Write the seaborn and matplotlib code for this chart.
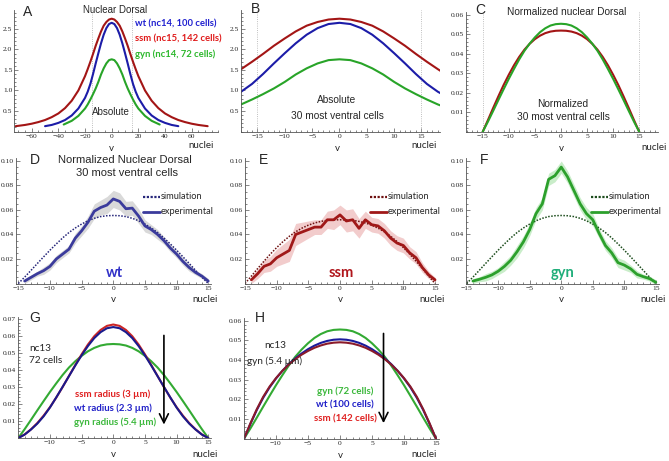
import seaborn as sns
import matplotlib.pyplot as plt
from matplotlib.lines import Line2D
from matplotlib.ticker import AutoMinorLocator

# ---------------- data ----------------
# A / B : absolute nuclear Dorsal, half profiles (v >= 0), symmetric
ssm_abs_x = [0, 2, 4, 6, 8, 10, 12, 14, 16, 18, 20, 25, 30, 35, 40, 45, 50, 55, 60, 65, 72]
ssm_abs = [2.75, 2.73, 2.67, 2.58, 2.44, 2.27, 2.09, 1.89, 1.70, 1.52, 1.35, 1.00, 0.75,
           0.57, 0.44, 0.35, 0.28, 0.23, 0.19, 0.16, 0.13]
wt_abs_x = [0, 2, 4, 6, 8, 10, 12, 14, 16, 18, 20, 25, 30, 35, 40, 45, 50]
wt_abs = [2.65, 2.62, 2.52, 2.36, 2.15, 1.91, 1.66, 1.40, 1.16, 0.97, 0.82, 0.56, 0.39,
          0.28, 0.21, 0.16, 0.13]
gyn_abs_x = [0, 2, 4, 6, 8, 10, 12, 14, 16, 18, 20, 25, 30, 36]
gyn_abs = [1.76, 1.74, 1.66, 1.54, 1.39, 1.21, 1.05, 0.91, 0.78, 0.66, 0.56, 0.38, 0.26, 0.17]

# C, G, H : normalized simulated profiles, v = 0..15
norm_x = list(range(16))
norm_ssm = [0.0520, 0.0519, 0.0515, 0.0507, 0.0494, 0.0476, 0.0452, 0.0422, 0.0385,
            0.0342, 0.0293, 0.0240, 0.0182, 0.0122, 0.0060, 0.0]
norm_gyn = [0.0555, 0.0553, 0.0546, 0.0532, 0.0512, 0.0485, 0.0453, 0.0416, 0.0372,
            0.0323, 0.0272, 0.0218, 0.0163, 0.0107, 0.0052, 0.0]
g_ssm = [0.0670, 0.0662, 0.0638, 0.0601, 0.0552, 0.0494, 0.0431, 0.0366, 0.0301,
         0.0239, 0.0182, 0.0132, 0.0088, 0.0051, 0.0021, 0.0]
g_wt = [0.0655, 0.0648, 0.0625, 0.0590, 0.0543, 0.0488, 0.0428, 0.0365, 0.0302,
        0.0240, 0.0180, 0.0128, 0.0085, 0.0050, 0.0020, 0.0]
h_ssm = [0.0490, 0.0488, 0.0483, 0.0474, 0.0462, 0.0446, 0.0427, 0.0404, 0.0377,
         0.0345, 0.0308, 0.0265, 0.0213, 0.0150, 0.0078, 0.0]
h_wt = [0.0505, 0.0503, 0.0497, 0.0487, 0.0473, 0.0455, 0.0433, 0.0408, 0.0379,
        0.0345, 0.0306, 0.0261, 0.0208, 0.0146, 0.0075, 0.0]

# D, E, F : experimental profiles, v = -14..15
exp_x = list(range(-14, 16))
wt_exp = [0.002, 0.005, 0.008, 0.0105, 0.014, 0.020, 0.024, 0.028, 0.037, 0.043, 0.050,
          0.059, 0.062, 0.064, 0.069, 0.067, 0.061, 0.0615, 0.055, 0.047, 0.044, 0.040,
          0.035, 0.029, 0.024, 0.018, 0.013, 0.009, 0.006, 0.002]
wt_err = [0.002, 0.002, 0.002, 0.003, 0.003, 0.003, 0.003, 0.003, 0.004, 0.004, 0.005,
          0.006, 0.006, 0.007, 0.007, 0.007, 0.006, 0.006, 0.006, 0.005, 0.004, 0.004,
          0.003, 0.003, 0.003, 0.003, 0.003, 0.002, 0.002, 0.002]
ssm_exp = [0.003, 0.008, 0.014, 0.016, 0.021, 0.024, 0.027, 0.040, 0.042, 0.044, 0.046,
           0.046, 0.052, 0.052, 0.056, 0.051, 0.052, 0.045, 0.052, 0.048, 0.047, 0.043,
           0.037, 0.033, 0.031, 0.025, 0.021, 0.013, 0.007, 0.003]
ssm_err = [0.003, 0.004, 0.005, 0.006, 0.007, 0.008, 0.009, 0.009, 0.008, 0.007, 0.006,
           0.006, 0.007, 0.008, 0.008, 0.009, 0.009, 0.008, 0.007, 0.006, 0.006, 0.006,
           0.006, 0.006, 0.006, 0.005, 0.005, 0.004, 0.003, 0.002]
gyn_exp = [0.002, 0.0034, 0.005, 0.007, 0.010, 0.014, 0.019, 0.026, 0.034, 0.044, 0.057,
           0.065, 0.085, 0.088, 0.095, 0.087, 0.076, 0.065, 0.057, 0.052, 0.041, 0.031,
           0.025, 0.017, 0.015, 0.012, 0.0075, 0.0056, 0.004, 0.001]
gyn_err = [0.002, 0.002, 0.003, 0.003, 0.003, 0.004, 0.004, 0.005, 0.005, 0.005, 0.005,
           0.005, 0.005, 0.005, 0.005, 0.005, 0.005, 0.005, 0.005, 0.005, 0.004, 0.004,
           0.004, 0.004, 0.004, 0.003, 0.003, 0.002, 0.002, 0.002]

# colours
DRED, BLUE, GREEN = '#a31515', '#1c1ca8', '#28a428'


def mirror(xs, ys):
    return [-x for x in xs[:0:-1]] + xs, ys[:0:-1] + ys


sns.set_style('ticks')
plt.rcParams['font.family'] = ['Liberation Sans', 'DejaVu Sans']

W, H = 669, 461
fig = plt.figure(figsize=(6.69, 4.61), dpi=100)
CAL = ['Lato', 'DejaVu Sans']


def txt(x, y, s, size=7, ha='center', va='center', **kw):
    fig.text(x / W, 1 - y / H, s, fontsize=size, ha=ha, va=va, **kw)


def fmt(v, f):
    return f.format(v).replace('-', '\u2212')


def panel(left, right, top, bottom, xlim, ylim, xticks, yticks, yf):
    ax = fig.add_axes([left / W, 1 - bottom / H, (right - left) / W, (bottom - top) / H])
    ax.patch.set_alpha(0)
    ax.set_xlim(xlim)
    ax.set_ylim(ylim)
    ax.set_xticks(xticks, labels=[fmt(v, '{:g}') for v in xticks],
                  fontfamily='Liberation Serif')
    ax.set_yticks(yticks, labels=[fmt(v, yf) for v in yticks],
                  fontfamily='Liberation Serif')
    ax.xaxis.set_minor_locator(AutoMinorLocator())
    ax.yaxis.set_minor_locator(AutoMinorLocator())
    ax.tick_params(which='both', direction='in', width=0.5, color='#555555',
                   labelsize=5.4, pad=1.5)
    ax.tick_params(which='major', length=3)
    ax.tick_params(which='minor', length=1.5)
    sns.despine(ax=ax)
    for s in ('left', 'bottom'):
        ax.spines[s].set_linewidth(0.6)
        ax.spines[s].set_color('#555555')
    return ax


def curve(ax, x, y, color, lw=1.5, ls='-'):
    sns.lineplot(x=x, y=y, ax=ax, color=color, lw=lw, ls=ls, sort=False,
                 estimator=None, errorbar=None)


y_abs = [0.5, 1.0, 1.5, 2.0, 2.5]
x15 = [-15, -10, -5, 0, 5, 10, 15]

# ---- A ----
ax = panel(14.4, 218.3, 10.5, 131.5, (-73, 80), (0, 2.95), [-60, -40, -20, 0, 20, 40, 60],
           y_abs, '{:.1f}')
for v in (-15, 15):
    ax.axvline(v, color='#aaaaaa', lw=0.6, ls=':')
curve(ax, *mirror(ssm_abs_x, ssm_abs), DRED)
curve(ax, *mirror(wt_abs_x, wt_abs), BLUE)
curve(ax, *mirror(gyn_abs_x, gyn_abs), GREEN)
txt(23, 12, 'A', 10, ha='left')
txt(115, 10, 'Nuclear Dorsal', 7)
txt(135, 24, 'wt (nc14, 100 cells)', 6.8, ha='left', color='#2020d0', weight='bold', family=CAL)
txt(135, 39, 'ssm (nc15, 142 cells)', 6.8, ha='left', color='#e01b1b', weight='bold', family=CAL)
txt(135, 54, 'gyn (nc14, 72 cells)', 6.8, ha='left', color='#2db82d', weight='bold', family=CAL)
txt(111, 112, 'Absolute', 7)
txt(111, 148, 'v', 7, family=CAL)
txt(201, 146, 'nuclei', 7, family=CAL)

# ---- B ----
ax = panel(241.1, 440, 10.5, 131.5, (-18, 18.4), (0, 2.95), x15, y_abs, '{:.1f}')
for v in (-15, 15):
    ax.axvline(v, color='#aaaaaa', lw=0.6, ls=':')
curve(ax, *mirror(ssm_abs_x, ssm_abs), DRED)
curve(ax, *mirror(wt_abs_x, wt_abs), BLUE)
curve(ax, *mirror(gyn_abs_x, gyn_abs), GREEN)
txt(251, 9, 'B', 10, ha='left')
txt(337, 100, 'Absolute', 7.3)
txt(337, 116, '30 most ventral cells', 7.3)
txt(337, 148, 'v', 7, family=CAL)
txt(424, 146, 'nuclei', 7, family=CAL)

# ---- C ----
ax = panel(466, 658, 11.7, 131.8, (-18.2, 18.6), (0, 0.0617), x15,
           [0.01, 0.02, 0.03, 0.04, 0.05, 0.06], '{:.2f}')
for v in (-15, 15):
    ax.axvline(v, color='#aaaaaa', lw=0.6, ls=':')
curve(ax, *mirror(norm_x, norm_ssm), DRED)
curve(ax, *mirror(norm_x, norm_gyn), GREEN)
txt(475, 10, 'C', 10, ha='left')
txt(567, 12, 'Normalized nuclear Dorsal', 7.3)
txt(563, 104, 'Normalized', 7.3)
txt(563, 117, '30 most ventral cells', 7.3)
txt(561, 148, 'v', 7, family=CAL)
txt(654, 147, 'nuclei', 7, family=CAL)

# ---- D, E, F ----
y_exp = [0.02, 0.04, 0.06, 0.08, 0.10]
rows = [
    (15.8, 211.4, (-15.4, 15.5), 113.3, wt_exp, wt_err, norm_gyn, '#3b3b9c', '#26267a',
     '#d9d9d9', 'D', 'wt', '#3232c8'),
    (245, 438.2, (-15, 15.5), 340, ssm_exp, ssm_err, norm_ssm, '#a01818', '#6e1010',
     '#f2cccc', 'E', 'ssm', '#b0161c'),
    (466, 659, (-15.1, 15.5), 561.3, gyn_exp, gyn_err, norm_gyn, '#2ca02c', '#1d4d1d',
     '#c9edc9', 'F', 'gyn', '#1fae7a'),
]
for left, right, xl, x0, yv, err, sim, lc, sc, bc, letter, name, nc in rows:
    ax = panel(left, right, 158.5, 283.5, xl, (0, 0.102), x15, y_exp, '{:.2f}')
    lo = [a - b for a, b in zip(yv, err)]
    hi = [a + b for a, b in zip(yv, err)]
    ax.fill_between(exp_x, lo, hi, color=bc, lw=0)
    curve(ax, *mirror(norm_x, sim), sc, lw=1.1, ls=(0, (1, 1)))
    curve(ax, exp_x, yv, lc, lw=2.0)
    txt(left + 14, 160, letter, 10, ha='left')
    txt(x0 + 1, 273, name, 10.5, color=nc, weight='bold', family=CAL)
    lx = x0 + 30
    fig.add_artist(Line2D([lx / W, (lx + 17) / W], [1 - 197 / H] * 2, color=sc, lw=1.6,
                          ls=(0, (1, 0.7))))
    fig.add_artist(Line2D([lx / W, (lx + 17) / W], [1 - 211.5 / H] * 2, color=lc, lw=2.0))
    txt(lx + 17.5, 196.5, 'simulation', 6.7, ha='left', family=CAL)
    txt(lx + 17.5, 211, 'experimental', 6.7, ha='left', family=CAL)
    txt(x0, 300, 'v', 7, family=CAL)
    txt(x0 + 92, 300, 'nuclei', 7, family=CAL)
txt(125, 160, 'Normalized Nuclear Dorsal', 8)
txt(126.7, 173.5, '30 most ventral cells', 8)

# ---- G ----
ax = panel(18.3, 211.4, 316.9, 438, (-15, 15.5), (0, 0.0715), [-10, -5, 0, 5, 10, 15],
           [0.01, 0.02, 0.03, 0.04, 0.05, 0.06, 0.07], '{:.2f}')
curve(ax, *mirror(norm_x, norm_gyn), '#33aa33')
curve(ax, *mirror(norm_x, g_ssm), '#cc2525')
curve(ax, *mirror(norm_x, g_wt), '#1a1a8c')
ax.annotate('', xy=(8, 0.0063), xytext=(8, 0.0622),
            arrowprops=dict(arrowstyle='->', lw=1.2, color='black', mutation_scale=16))
txt(29, 318, 'G', 10, ha='left')
txt(29, 348, 'nc13', 7.2, ha='left', family=CAL)
txt(29, 360.5, '72 cells', 7.2, ha='left', family=CAL)
txt(113, 394, 'ssm radius (3 \u00b5m)', 6.9, color='#e02020', weight='bold', family=CAL)
txt(113, 408, 'wt radius (2.3 \u00b5m)', 6.9, color='#2020c8', weight='bold', family=CAL)
txt(115, 422, 'gyn radius (5.4 \u00b5m)', 6.9, color='#3cb83c', weight='bold', family=CAL)
txt(113, 454, 'v', 7, family=CAL)
txt(205, 454, 'nuclei', 7, family=CAL)

# ---- H ----
ax = panel(244, 439.2, 317.7, 438.7, (-15, 15.5), (0, 0.0615), [-10, -5, 0, 5, 10, 15],
           [0.01, 0.02, 0.03, 0.04, 0.05, 0.06], '{:.2f}')
curve(ax, *mirror(norm_x, norm_gyn), '#33aa33')
curve(ax, *mirror(norm_x, h_wt), '#1a1a9c')
curve(ax, *mirror(norm_x, h_ssm), '#8a1a2a')
ax.annotate('', xy=(6.8, 0.0065), xytext=(6.8, 0.0549),
            arrowprops=dict(arrowstyle='->', lw=1.2, color='black', mutation_scale=16))
txt(255, 318, 'H', 10, ha='left')
txt(275, 345, 'nc13', 7.2, family=CAL)
txt(275, 361, 'gyn (5.4 \u00b5m)', 7.2, family=CAL)
txt(345, 391, 'gyn (72 cells)', 7, color='#3cb83c', weight='bold', family=CAL)
txt(345, 404.5, 'wt (100 cells)', 7, color='#2020c8', weight='bold', family=CAL)
txt(345, 419, 'ssm (142 cells)', 7, color='#e02020', weight='bold', family=CAL)
txt(340, 455, 'v', 7, family=CAL)
txt(424, 454, 'nuclei', 7, family=CAL)

fig.savefig('out.png', dpi=100)
